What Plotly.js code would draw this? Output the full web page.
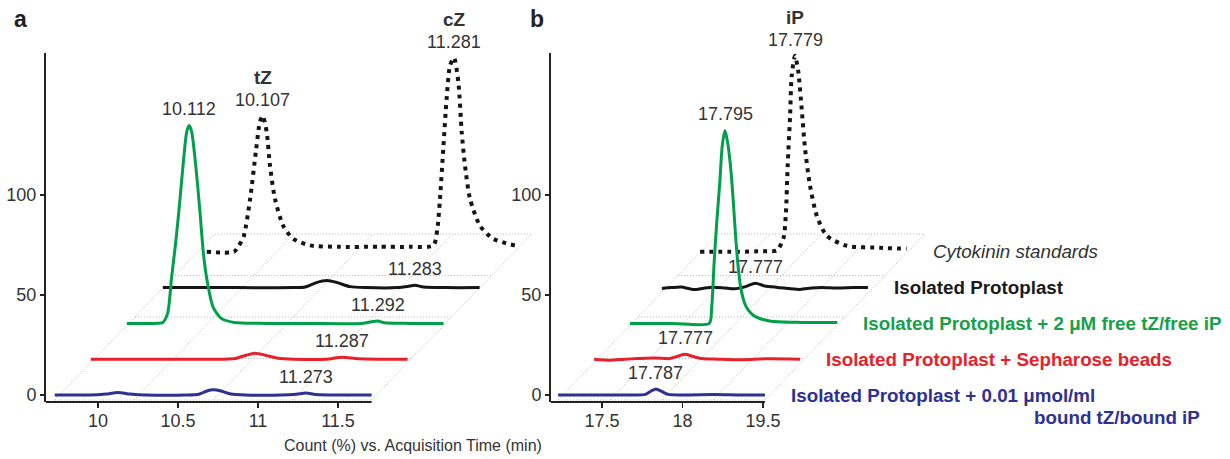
<!DOCTYPE html>
<html><head><meta charset="utf-8">
<script src="https://cdn.plot.ly/plotly-3.0.1.min.js"></script>
<style>html,body{margin:0;padding:0;background:#fff}</style>
</head><body><div id="chart" style="width:1230px;height:459px"></div>
<script>
// ---------- DATA (time in min, signal = Count % above each trace's own baseline) ----------
// Panel a : tZ / cZ window
const aBoundT = [9.73, 9.95, 10.05, 10.125, 10.20, 10.30, 10.55, 10.63, 10.68, 10.72, 10.77, 10.83, 10.92, 11.15, 11.24, 11.30, 11.36, 11.50, 11.71];
const aBoundY = [0, 0, 0.5, 1.2, 0.5, 0, 0, 0.4, 2.0, 2.6, 2.0, 0.5, 0, 0, 0.4, 1.0, 0.3, 0, 0];
const aBeadsT = [9.73, 10.0, 10.3, 10.55, 10.63, 10.70, 10.756, 10.82, 10.90, 11.0, 11.20, 11.30, 11.40, 11.55, 11.71];
const aBeadsY = [0, 0, 0, 0, 0.3, 2.0, 3.0, 2.0, 0.5, 0, 0, 1.0, 0.2, 0, 0];
const aFreeT = [9.73, 9.90, 9.955, 9.985, 10.01, 10.035, 10.06, 10.085, 10.105, 10.12, 10.135, 10.157, 10.185, 10.21, 10.235, 10.27, 10.32, 10.40, 10.60, 10.85, 11.20, 11.26, 11.30, 11.34, 11.50, 11.71];
const aFreeY = [0, 0, 0.5, 5, 23, 40, 60, 82, 96, 99, 96, 82, 58, 34, 20, 8, 2.5, 0.5, 0, 0, 0, 0.8, 1.2, 0.3, 0, 0];
const aProtoT = [9.73, 10.2, 10.55, 10.62, 10.69, 10.756, 10.82, 10.90, 11.0, 11.20, 11.26, 11.306, 11.36, 11.50, 11.71];
const aProtoY = [0, 0, 0, 0.3, 2.5, 3.5, 2.5, 0.5, 0, 0, 0.6, 1.2, 0.3, 0, 0];
const aStdT = [9.78, 9.95, 9.98, 10.01, 10.05, 10.088, 10.112, 10.129, 10.154, 10.175, 10.206, 10.258, 10.32, 10.425, 10.6, 10.85, 11.05, 11.196, 11.221, 11.2375, 11.258, 11.279, 11.30, 11.325, 11.352, 11.373, 11.394, 11.425, 11.4875, 11.57, 11.715];
const aStdY = [0, 0, 3, 7.5, 26, 51, 65, 68, 60, 43, 26.5, 13, 6.5, 3.2, 2.5, 2.5, 2.5, 3.2, 11.5, 26.5, 51.5, 76.5, 93, 97, 85, 60, 43, 26.5, 13, 6.5, 3];

// Panel b : iP window
const bBoundT = [17.227, 17.40, 17.55, 17.70, 17.77, 17.805, 17.835, 17.87, 17.91, 18.0, 18.2, 18.35, 18.512];
const bBoundY = [0, 0, 0, 0, 0.3, 2, 3, 1.8, 0.3, 0, 0.2, 0, 0];
const bBeadsT = [17.23, 17.33, 17.42, 17.50, 17.61, 17.70, 17.75, 17.795, 17.84, 17.90, 18.00, 18.15, 18.30, 18.51];
const bBeadsY = [0, -0.5, 0, 0.3, 0.6, 0.3, 1.5, 2.5, 1.5, 0.3, 0, -0.3, 0.2, 0];
const bFreeT = [17.233, 17.50, 17.725, 17.74, 17.755, 17.771, 17.79, 17.806, 17.823, 17.84, 17.86, 17.875, 17.89, 17.905, 17.92, 17.95, 18.0, 18.10, 18.30, 18.52];
const bFreeY = [0, 0, 0, 8, 30, 50, 70, 89, 96.5, 90, 76, 60, 42, 28, 18, 9, 4, 1.2, 0.5, 0.5];
const bProtoT = [17.21, 17.27, 17.33, 17.41, 17.47, 17.53, 17.60, 17.66, 17.73, 17.79, 17.85, 17.93, 18.00, 18.07, 18.14, 18.20, 18.30, 18.40, 18.49];
const bProtoY = [-0.4, 0, 0.3, -1.0, -0.3, 0.2, -0.2, -0.6, 0.5, 2.2, 0.8, 0.1, -0.5, -0.9, -0.2, 0.1, -0.2, 0, 0];
const bStdT = [17.227, 17.45, 17.62, 17.703, 17.744, 17.759, 17.771, 17.786, 17.796, 17.817, 17.837, 17.858, 17.879, 17.91, 17.952, 18.014, 18.138, 18.345, 18.51];
const bStdY = [0, 0, 0.3, 0.7, 6.5, 18, 43, 68, 88, 98, 90, 71.5, 51.5, 33, 18, 8, 3, 2, 1.5];

// Series (depth order, front to back)
const seriesNames = ['Isolated Protoplast + 0.01 μmol/ml', 'Isolated Protoplast + Sepharose beads', 'Isolated Protoplast + 2 μM free tZ/free iP', 'Isolated Protoplast', 'Cytokinin standards'];
const seriesColors = ['#2e3092', '#e8202a', '#00a04b', '#151515', '#151515'];
const legendColors = ['#2e3092', '#e8202a', '#16a04a', '#1a1a1a', '#333333'];

// Peak annotations
const aLabelK = [2, 4, 4, 3, 2, 1, 0];
const aLabelT = [10.12, 10.129, 11.325, 11.306, 11.30, 11.30, 11.30];
const aLabelText = ['10.112', '10.107', '11.281', '11.283', '11.292', '11.287', '11.273'];
const aLabelName = ['', 'tZ', 'cZ', '', '', '', ''];
const bLabelK = [2, 4, 3, 1, 0];
const bLabelT = [17.823, 17.817, 17.79, 17.795, 17.835];
const bLabelText = ['17.795', '17.779', '17.777', '17.777', '17.787'];
const bLabelName = ['', 'iP', '', '', ''];

// Axis ticks
const aTickVals = [10, 10.5, 11, 11.5];
const aTickText = ['10', '10.5', '11', '11.5'];
const bTickVals = [17.5, 18, 18.5];
const bTickText = ['17.5', '18', '19.5'];
const yTickVals = [0, 50, 100];

// ---------- LAYOUT PARAMETERS ----------
const FONT = 'Liberation Sans, Arial, Helvetica, sans-serif';
const W = 1230, H = 459;
const depthDy = 17.9;
const yRange = [-3.5, 171];
const yDom = [1 - 402 / H, 1 - 53 / H];
const panels = [
  {xa: 'x', ya: 'y', T: [aBoundT, aBeadsT, aFreeT, aProtoT, aStdT], Y: [aBoundY, aBeadsY, aFreeY, aProtoY, aStdY],
   dx: 0.225, pxPerMin: 160, px0: 46, px1: 545, t0: 9.675, floorShift: 1.0,
   lk: aLabelK, lt: aLabelT, ltext: aLabelText, lname: aLabelName},
  {xa: 'x2', ya: 'y2', T: [bBoundT, bBeadsT, bFreeT, bProtoT, bStdT], Y: [bBoundY, bBeadsY, bFreeY, bProtoY, bStdY],
   dx: 0.2205, pxPerMin: 161, px0: 551, px1: 1230, t0: 17.183, floorShift: 0.994,
   lk: bLabelK, lt: bLabelT, ltext: bLabelText, lname: bLabelName}
];

const traces = [];
const shapes = [];
const annotations = [];

panels.forEach((p, pi) => {
  // floor grid (4 x 4 parallelogram)
  const fx0 = p.T[0][0], fx1 = p.T[0][p.T[0].length - 1];
  const fy0 = -2.5, fy1 = 80.5, n = 4;
  const gx = [], gy = [];
  for (let j = 0; j <= n; j++) {
    const s = p.floorShift * j / n, yy = fy0 + (fy1 - fy0) * j / n;
    gx.push(fx0 + s, fx1 + s, null); gy.push(yy, yy, null);
  }
  for (let i = 0; i <= n; i++) {
    const xx = fx0 + (fx1 - fx0) * i / n;
    gx.push(xx, xx + p.floorShift, null); gy.push(fy0, fy1, null);
  }
  traces.push({type: 'scatter', mode: 'lines', x: gx, y: gy, xaxis: p.xa, yaxis: p.ya,
    line: {color: '#b4b4b4', width: 1, dash: '1px,2px'}, hoverinfo: 'skip'});

  // data traces, back to front
  for (let k = 4; k >= 0; k--) {
    const xs = p.T[k].map(t => t + k * p.dx);
    const ys = p.Y[k].map(v => v + k * depthDy);
    const dotted = (k === 4);
    traces.push({type: 'scatter', mode: 'lines', name: seriesNames[k], x: xs, y: ys,
      xaxis: p.xa, yaxis: p.ya,
      line: {color: seriesColors[k], width: dotted ? 4 : 3, dash: dotted ? '4px,5px' : 'solid',
             shape: 'spline', smoothing: 0.7}});
  }

  // x axis baseline segment
  shapes.push({type: 'line', xref: p.xa, yref: p.ya + ' domain', x0: p.t0 - 2 / p.pxPerMin,
    x1: p.T[0][p.T[0].length - 1], y0: 0, y1: 0, line: {color: '#222', width: 2}});

  // peak labels
  p.lk.forEach((k, li) => {
    const T = p.T[k], Y = p.Y[k];
    let best = -Infinity;
    T.forEach((t, ii) => { if (Math.abs(t - p.lt[li]) < 0.03 && Y[ii] > best) best = Y[ii]; });
    const ax = p.lt[li] + k * p.dx, ay = best + k * depthDy;
    annotations.push({xref: p.xa, yref: p.ya, x: ax, y: ay, text: p.ltext[li], showarrow: false,
      yanchor: 'middle', xanchor: 'center', yshift: 16, font: {family: FONT, size: 18, color: '#333'}});
    if (p.lname[li]) {
      annotations.push({xref: p.xa, yref: p.ya, x: ax, y: ay, text: '<b>' + p.lname[li] + '</b>', showarrow: false,
        yanchor: 'middle', xanchor: 'center', yshift: 38, font: {family: FONT, size: 19, color: '#333'}});
    }
  });

  // series labels at the right end of panel b
  if (pi === 1) {
    for (let k = 0; k < 5; k++) {
      const T = p.T[k];
      const txt = (k === 4) ? '<i>' + seriesNames[k] + '</i>' : '<b>' + seriesNames[k] + '</b>';
      annotations.push({xref: p.xa, yref: p.ya, x: T[T.length - 1] + k * p.dx + 0.15, y: k * depthDy,
        text: txt, showarrow: false, xanchor: 'left', yanchor: 'middle',
        font: {family: FONT, size: 18.8, color: legendColors[k]}});
    }
  }
});

annotations.push({xref: 'paper', yref: 'paper', x: 1032 / W, y: 1 - 417 / H, xanchor: 'left', yanchor: 'middle',
  text: '<b>bound tZ/bound iP</b>', showarrow: false, font: {family: FONT, size: 18.8, color: legendColors[0]}});
annotations.push({xref: 'paper', yref: 'paper', x: 20 / W, y: 1 - 19 / H, xanchor: 'center', yanchor: 'middle',
  text: '<b>a</b>', showarrow: false, font: {family: FONT, size: 23, color: '#222'}});
annotations.push({xref: 'paper', yref: 'paper', x: 537 / W, y: 1 - 19 / H, xanchor: 'center', yanchor: 'middle',
  text: '<b>b</b>', showarrow: false, font: {family: FONT, size: 23, color: '#222'}});
annotations.push({xref: 'paper', yref: 'paper', x: 413 / W, y: 1 - 445 / H, xanchor: 'center', yanchor: 'middle',
  text: 'Count (%) vs. Acquisition Time (min)', showarrow: false, font: {family: FONT, size: 16, color: '#333'}});

function xAxis(p, vals, text) {
  return {domain: [p.px0 / W, p.px1 / W], range: [p.t0, p.t0 + (p.px1 - p.px0) / p.pxPerMin],
    anchor: p.ya, showline: false, showgrid: false, zeroline: false, ticks: 'outside', ticklen: 5,
    tickwidth: 1.5, tickcolor: '#222', tickvals: vals, ticktext: text, ticklabelstandoff: -3,
    tickfont: {family: FONT, size: 18, color: '#333'}, fixedrange: true};
}
function yAxis(p) {
  return {domain: yDom, range: yRange, anchor: p.xa, showline: true, linecolor: '#222', linewidth: 2,
    showgrid: false, zeroline: false, ticks: 'outside', ticklen: 4, tickwidth: 1.5, tickcolor: '#222',
    tickvals: yTickVals, tickfont: {family: FONT, size: 18, color: '#333'}, fixedrange: true};
}

const layout = {
  width: W, height: H, margin: {l: 0, r: 0, t: 0, b: 0},
  paper_bgcolor: '#ffffff', plot_bgcolor: 'rgba(0,0,0,0)', showlegend: false,
  font: {family: FONT, color: '#333'},
  xaxis: xAxis(panels[0], aTickVals, aTickText), yaxis: yAxis(panels[0]),
  xaxis2: xAxis(panels[1], bTickVals, bTickText), yaxis2: yAxis(panels[1]),
  shapes: shapes, annotations: annotations
};

Plotly.newPlot('chart', traces, layout, {staticPlot: true, displayModeBar: false});
</script></body></html>
